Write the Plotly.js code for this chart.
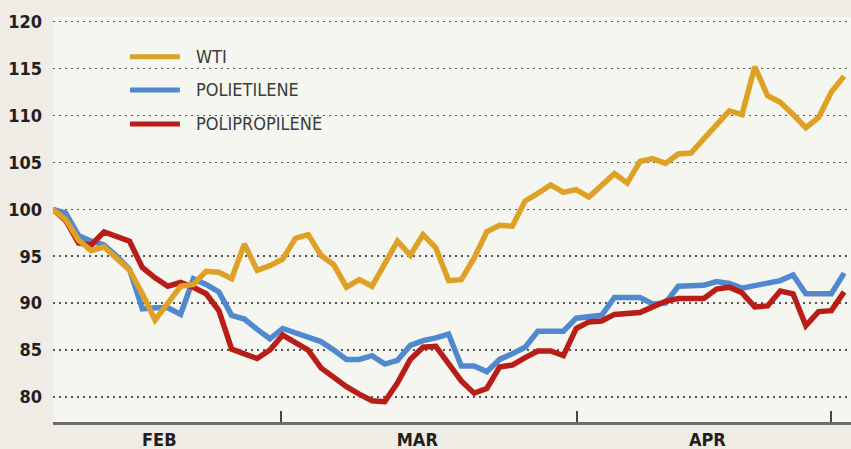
<!DOCTYPE html>
<html>
<head>
<meta charset="utf-8">
<script src="https://cdn.plot.ly/plotly-3.0.1.min.js"></script>
<style>
html,body{margin:0;padding:0;background:#efece6;}
#chart{width:851px;height:449px;}
</style>
</head>
<body>
<div id="chart"></div>
<script>
// ---- data (trading-day index, values indexed to 100) ----
const seriesNames = ["WTI", "POLIETILENE", "POLIPROPILENE"];
const seriesColors = ["#dfa026", "#5189cf", "#b81d18"];

const wti = [100.0, 98.9, 96.7, 95.6, 96.0, 94.8, 93.5, 91.0, 88.2, 90.0,
  91.8, 92.0, 93.4, 93.3, 92.6, 96.3, 93.5, 94.0, 94.7, 96.9,
  97.3, 95.1, 94.1, 91.7, 92.5, 91.8, 94.3, 96.6, 95.1, 97.3,
  95.9, 92.4, 92.5, 94.8, 97.6, 98.3, 98.2, 100.9, 101.7, 102.6,
  101.8, 102.1, 101.3, 102.5, 103.8, 102.8, 105.1, 105.4, 104.9, 105.9,
  106.0, 107.5, 109.0, 110.5, 110.1, 115.2, 112.1, 111.4, 110.1, 108.7,
  109.8, 112.5, 114.2];

const polietilene = [100.0, 99.6, 97.2, 96.6, 96.2, 95.0, 93.6, 89.4, 89.5, 89.5,
  88.8, 92.6, 92.0, 91.2, 88.7, 88.3, 87.2, 86.2, 87.3, 86.8,
  86.4, 85.9, 85.0, 84.0, 84.0, 84.4, 83.5, 83.9, 85.5, 86.0,
  86.3, 86.7, 83.3, 83.3, 82.7, 84.0, 84.6, 85.3, 87.0, 87.0,
  87.0, 88.4, 88.6, 88.7, 90.6, 90.6, 90.6, 89.9, 90.0, 91.8,
  91.8, 91.9, 92.3, 92.1, 91.6, 91.9, 92.1, 92.4, 93.0, 91.0,
  91.0, 91.0, 93.2];

const polipropilene = [100.0, 98.8, 96.4, 96.2, 97.6, 97.1, 96.6, 93.8, 92.7, 91.8,
  92.2, 91.7, 91.0, 89.2, 85.1, 84.6, 84.1, 85.0, 86.6, 85.8,
  85.0, 83.1, 82.1, 81.1, 80.3, 79.6, 79.5, 81.5, 84.0, 85.3,
  85.4, 83.6, 81.7, 80.4, 80.9, 83.2, 83.4, 84.2, 84.9, 84.9,
  84.4, 87.3, 88.0, 88.1, 88.8, 88.9, 89.0, 89.6, 90.2, 90.5,
  90.5, 90.5, 91.5, 91.7, 91.1, 89.6, 89.7, 91.3, 91.0, 87.6,
  89.1, 89.2, 91.2];

const day = wti.map((_, i) => i);

// month labels (centred) and month boundaries (tick marks), in trading-day units
const monthLabels = ["FEB", "MAR", "APR"];
const monthLabelPos = [8.33, 28.55, 51.28];
const monthBoundaryPos = [17.87, 41.07, 60.97];

const yTicks = [80, 85, 90, 95, 100, 105, 110, 115, 120];

// ---- drawing ----
const FONT = "'Liberation Sans Narrow', 'DejaVu Sans Condensed', 'Arial Narrow', 'Liberation Sans', sans-serif";

const valuesBySeries = [wti, polietilene, polipropilene];
const drawOrder = [1, 2, 0]; // blue, red, then orange on top
const traces = drawOrder.map(k => ({
  type: "scatter",
  mode: "lines",
  x: day,
  y: valuesBySeries[k],
  name: seriesNames[k],
  line: {color: seriesColors[k], width: 5.5, shape: "linear"},
  showlegend: false,
  hoverinfo: "skip"
}));

// hand-drawn legend (lines + labels) in paper coordinates
const legendY = [0.902, 0.820, 0.736];
const shapes = seriesNames.map((n, k) => ({
  type: "line", xref: "paper", yref: "paper",
  x0: 0.0965, x1: 0.159, y0: legendY[k], y1: legendY[k],
  line: {color: seriesColors[k], width: 5}
}));
const annotations = seriesNames.map((n, k) => ({
  text: n, xref: "paper", yref: "paper", x: 0.177, y: legendY[k],
  xanchor: "left", yanchor: "middle", showarrow: false,
  font: {family: FONT, size: 18, color: "#3b3b3b"}
}));

const layout = {
  width: 851, height: 449,
  margin: {l: 53, r: 0, t: 17, b: 27, pad: 0},
  paper_bgcolor: "#efece6",
  plot_bgcolor: "#f6f6f1",
  showlegend: false,
  xaxis: {
    range: [0, 62.54],
    tickmode: "array",
    tickvals: monthLabelPos,
    ticktext: monthLabels,
    ticks: "",
    showgrid: false,
    zeroline: false,
    showline: true,
    linecolor: "#6b6b6b",
    linewidth: 2.5,
    ticklabelstandoff: 0,
    tickfont: {family: FONT, size: 18, color: "#231f20", weight: "bold"},
    minor: {
      tickmode: "array",
      tickvals: monthBoundaryPos,
      ticks: "inside",
      ticklen: 11,
      tickwidth: 1.5,
      tickcolor: "#444444",
      showgrid: false
    },
    fixedrange: true
  },
  yaxis: {
    range: [77.33, 120.5],
    tickmode: "array",
    tickvals: yTicks,
    ticktext: yTicks.map(String),
    ticks: "",
    showgrid: true,
    gridcolor: "#555555",
    gridwidth: 1.5,
    griddash: "1.5px,4.5px",
    zeroline: false,
    showline: false,
    ticklabelstandoff: 10,
    tickfont: {family: FONT, size: 18, color: "#231f20", weight: "bold"},
    fixedrange: true
  },
  shapes: shapes,
  annotations: annotations
};

Plotly.newPlot("chart", traces, layout, {displayModeBar: false, staticPlot: true});
</script>
</body>
</html>
